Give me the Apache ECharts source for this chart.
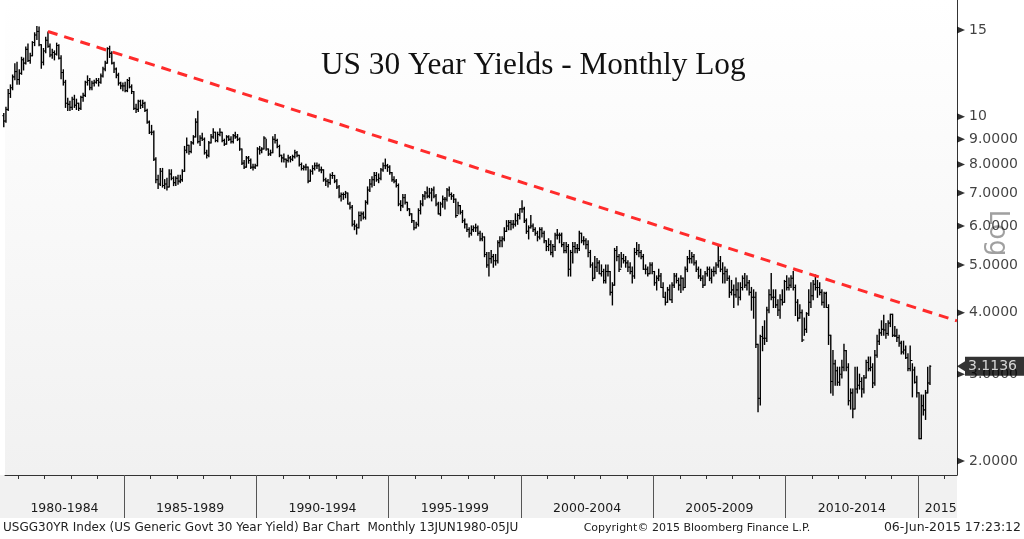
<!DOCTYPE html>
<html>
<head>
<meta charset="utf-8">
<script src="https://cdn.jsdelivr.net/npm/echarts@6/dist/echarts.min.js"></script>
<style>
html,body{margin:0;padding:0;background:#fff;}
#chart{width:1024px;height:539px;}
</style>
</head>
<body>
<div id="chart"></div>
<script>
// ---- Data (monthly bars, Jun 1980 - Jun 2015) ----
const startYear = 1980, startMonth = 6; // June 1980
const open0 = 10.05;
const high = [
  10.15,10.45,11.35,11.6,12.15,12.8,12.9,
  12.45,13.2,13.15,13.85,14.05,13.45,14.2,14.8,15.25,15.2,14.0,13.75,
  14.5,14.85,14.05,13.7,13.6,14.1,14.0,13.3,12.45,11.85,10.9,10.75,
  10.95,11.05,10.85,10.65,11.0,11.15,11.8,12.1,11.95,11.8,11.85,11.95,
  11.95,12.2,12.6,12.95,13.8,13.9,13.55,12.9,12.55,12.25,11.75,11.7,
  11.75,11.9,12.0,11.6,11.25,10.6,10.8,10.8,10.8,10.7,10.35,9.8,
  9.6,9.35,8.25,7.6,7.85,7.85,7.45,7.5,7.8,7.8,7.55,7.55,
  7.6,7.6,7.8,8.7,9.05,8.75,8.9,9.15,9.9,10.25,9.15,9.25,
  9.05,8.55,8.9,9.2,9.45,9.3,9.3,9.45,9.3,9.0,9.15,9.15,
  9.1,9.2,9.3,9.2,9.05,8.6,8.15,8.3,8.3,8.2,8.0,8.0,
  8.65,8.7,8.65,9.1,9.0,8.6,8.55,9.1,9.2,9.0,8.75,8.35,
  8.4,8.2,8.35,8.3,8.35,8.55,8.5,8.35,8.05,7.95,8.0,7.9,
  7.8,7.95,8.05,8.05,8.0,7.9,7.8,7.5,7.45,7.65,7.7,7.6,
  7.45,7.25,7.0,7.0,7.05,7.0,6.7,6.6,6.15,6.05,6.4,6.4,
  6.4,6.75,7.2,7.45,7.55,7.7,7.7,7.65,7.85,8.05,8.2,8.0,
  7.95,7.7,7.55,7.45,7.3,6.75,6.95,6.95,6.7,6.5,6.35,6.15,
  6.1,6.5,6.75,6.95,7.05,7.2,7.15,7.15,7.2,6.95,6.7,6.7,
  6.9,6.85,7.15,7.2,7.0,6.95,6.8,6.7,6.6,6.45,6.2,6.05,
  5.95,6.0,6.0,6.05,6.0,5.85,5.8,5.7,5.3,5.3,5.35,5.25,
  5.25,5.6,5.7,5.7,5.95,6.15,6.15,6.15,6.15,6.35,6.35,6.5,
  6.75,6.55,6.2,6.0,6.3,6.05,5.95,5.85,5.95,5.95,5.85,5.6,
  5.65,5.6,5.5,5.8,5.9,5.8,5.8,5.55,5.55,5.5,5.35,5.55,
  5.55,5.5,5.85,5.8,5.7,5.65,5.6,5.35,5.05,5.2,5.15,5.1,
  5.0,4.9,5.0,5.0,4.85,4.6,5.4,5.45,5.25,5.3,5.25,5.2,
  5.1,5.05,4.95,5.4,5.55,5.5,5.35,5.25,5.0,4.95,5.05,5.05,
  4.85,4.75,4.9,4.8,4.6,4.4,4.5,4.55,4.6,4.8,4.8,4.7,
  4.75,4.7,4.95,5.2,5.35,5.3,5.25,5.1,4.95,4.9,4.75,4.85,
  4.95,4.95,4.9,4.95,5.05,5.45,5.2,5.05,4.95,4.9,4.75,4.65,
  4.55,4.7,4.6,4.6,4.75,4.8,4.75,4.65,4.5,4.45,4.4,3.45,
  3.6,3.75,3.85,4.1,4.45,4.8,4.45,4.45,4.25,4.35,4.45,4.65,
  4.75,4.7,4.75,4.85,4.55,4.25,4.15,4.05,3.9,4.0,4.45,4.6,
  4.65,4.77,4.65,4.6,4.45,4.4,4.4,4.15,3.6,3.35,3.2,3.1,
  3.1,3.2,3.45,3.35,3.15,2.8,2.8,3.1,3.1,3.0,2.95,2.98,
  3.2,3.25,3.25,3.15,3.35,3.6,3.7,3.85,3.95,3.8,3.85,3.97,
  3.97,3.75,3.7,3.6,3.5,3.5,3.42,3.3,3.42,3.15,3.1,2.97,
  2.75,2.72,2.72,2.78,3.1,3.12
];
const low = [
  9.55,9.75,10.3,10.95,11.35,11.9,11.65,
  11.65,12.2,12.45,12.8,12.95,12.85,13.3,13.95,14.35,13.95,12.55,12.75,
  13.5,13.85,13.25,13.15,13.05,13.35,13.1,11.95,11.6,10.45,10.3,10.3,
  10.35,10.45,10.35,10.3,10.35,10.75,11.0,11.6,11.35,11.35,11.55,11.7,
  11.55,11.7,12.05,12.4,12.85,13.2,12.8,12.3,12.0,11.6,11.4,11.3,
  11.25,11.25,11.45,11.15,10.35,10.2,10.25,10.4,10.45,10.25,9.7,9.25,
  9.2,8.15,7.35,7.15,7.25,7.2,7.15,7.1,7.2,7.45,7.25,7.25,
  7.3,7.35,7.4,7.75,8.45,8.4,8.45,8.8,9.1,8.85,8.75,8.95,
  8.4,8.25,8.3,8.85,9.05,8.9,8.9,9.15,8.9,8.75,8.8,8.95,
  8.85,8.85,9.05,8.95,8.55,8.0,7.85,7.9,8.05,7.85,7.8,7.85,
  7.95,8.4,8.45,8.6,8.55,8.35,8.35,8.45,8.85,8.65,8.3,8.1,
  8.1,7.9,8.1,8.1,8.15,8.25,8.3,7.95,7.8,7.8,7.8,7.35,
  7.4,7.65,7.8,7.85,7.75,7.7,7.4,7.25,7.2,7.3,7.5,7.35,
  7.15,6.85,6.75,6.8,6.85,6.65,6.5,6.0,5.9,5.78,5.95,6.15,
  6.2,6.2,6.65,7.05,7.2,7.25,7.4,7.35,7.45,7.75,7.85,7.75,
  7.65,7.4,7.35,7.2,6.6,6.45,6.55,6.65,6.45,6.3,6.1,5.9,
  5.95,6.0,6.35,6.6,6.8,6.85,6.85,6.75,6.85,6.6,6.35,6.3,
  6.55,6.5,6.75,6.9,6.8,6.7,6.25,6.35,6.35,6.1,5.95,5.85,
  5.7,5.75,5.85,5.85,5.75,5.6,5.6,5.2,4.95,4.75,5.05,4.95,
  5.0,5.05,5.45,5.45,5.6,5.85,5.9,5.9,5.95,6.0,6.05,6.2,
  6.4,6.1,5.8,5.65,5.95,5.85,5.75,5.6,5.65,5.7,5.55,5.35,
  5.35,5.25,5.2,5.35,5.65,5.55,5.45,5.3,5.3,4.75,4.75,5.05,
  5.3,5.3,5.35,5.55,5.5,5.4,5.2,4.95,4.65,4.7,4.85,4.8,
  4.75,4.6,4.6,4.75,4.35,4.15,4.55,5.1,4.85,4.95,5.05,4.95,
  4.85,4.8,4.6,4.7,5.25,5.2,5.15,4.9,4.8,4.75,4.8,4.8,
  4.55,4.45,4.65,4.5,4.3,4.15,4.2,4.25,4.2,4.5,4.6,4.45,
  4.4,4.45,4.5,4.85,5.05,5.05,5.0,4.85,4.7,4.65,4.5,4.55,
  4.75,4.65,4.6,4.75,4.8,4.95,4.85,4.6,4.6,4.65,4.3,4.35,
  4.1,4.3,4.15,4.25,4.45,4.5,4.45,4.35,4.05,3.9,3.4,2.52,
  2.6,3.35,3.45,3.5,4.0,4.25,4.1,4.1,3.95,3.9,4.15,4.2,
  4.45,4.45,4.5,4.45,3.95,3.85,3.9,3.5,3.6,3.65,3.95,4.1,
  4.25,4.45,4.3,4.35,4.15,4.1,4.1,3.45,2.75,2.72,2.85,2.85,
  2.85,2.95,3.05,3.05,2.6,2.55,2.45,2.55,2.75,2.8,2.7,2.75,
  2.95,3.05,3.05,2.82,2.85,3.25,3.45,3.6,3.6,3.55,3.6,3.75,
  3.58,3.58,3.5,3.42,3.3,3.3,3.23,3.05,3.05,2.7,2.88,2.7,
  2.22,2.22,2.48,2.43,2.75,2.86
];
const close = [
  9.8,10.35,11.15,11.45,12.05,12.35,11.9,
  12.25,13.05,12.85,13.7,13.0,13.3,14.15,14.65,14.9,14.0,12.9,13.6,
  14.3,13.9,13.35,13.5,13.4,13.95,13.15,12.3,11.75,10.65,10.6,10.45,
  10.85,10.55,10.65,10.4,10.95,11.05,11.75,11.85,11.45,11.7,11.75,11.85,
  11.75,12.1,12.5,12.85,13.75,13.45,12.85,12.5,12.15,11.7,11.55,11.55,
  11.3,11.85,11.5,11.25,10.4,10.35,10.75,10.55,10.65,10.3,9.75,9.3,
  9.3,8.2,7.45,7.3,7.75,7.25,7.3,7.2,7.65,7.5,7.35,7.5,
  7.4,7.45,7.75,8.55,8.75,8.5,8.85,9.1,9.75,8.9,9.05,9.0,
  8.45,8.35,8.85,9.1,9.3,8.95,9.2,9.3,8.95,8.8,9.1,9.0,
  8.9,9.15,9.1,9.0,8.6,8.05,7.9,8.25,8.15,7.9,7.9,7.95,
  8.6,8.55,8.6,9.05,8.6,8.4,8.45,9.0,8.95,8.7,8.35,8.25,
  8.2,8.15,8.25,8.2,8.3,8.45,8.35,8.0,7.85,7.9,7.9,7.4,
  7.75,7.85,7.95,7.95,7.8,7.8,7.45,7.4,7.35,7.6,7.6,7.4,
  7.2,6.9,6.95,6.95,7.0,6.65,6.55,6.05,6.0,5.95,6.3,6.35,
  6.25,6.7,7.1,7.3,7.45,7.6,7.45,7.5,7.8,7.95,7.95,7.9,
  7.7,7.45,7.4,7.25,6.65,6.6,6.85,6.7,6.5,6.35,6.15,5.95,
  6.05,6.45,6.65,6.9,7.0,6.9,7.0,7.1,6.9,6.65,6.35,6.65,
  6.8,6.8,7.1,6.95,6.9,6.8,6.3,6.6,6.4,6.15,6.05,5.9,
  5.8,5.9,5.95,5.95,5.8,5.65,5.7,5.25,5.0,5.15,5.2,5.1,
  5.1,5.55,5.6,5.65,5.85,6.0,6.1,6.05,6.05,6.15,6.3,6.5,
  6.5,6.15,5.85,5.95,6.0,5.9,5.8,5.7,5.9,5.8,5.6,5.45,
  5.5,5.3,5.45,5.75,5.75,5.75,5.5,5.35,5.45,4.9,5.3,5.45,
  5.4,5.4,5.8,5.6,5.6,5.5,5.3,5.0,4.7,4.95,5.05,4.8,
  4.85,4.65,4.85,4.85,4.4,4.55,5.35,5.2,4.9,5.15,5.1,5.05,
  4.95,4.85,4.75,5.3,5.35,5.3,5.2,4.9,4.9,4.8,5.0,4.85,
  4.6,4.7,4.75,4.5,4.3,4.2,4.45,4.25,4.55,4.75,4.65,4.55,
  4.7,4.5,4.9,5.15,5.15,5.2,5.05,4.9,4.75,4.7,4.55,4.8,
  4.9,4.7,4.85,4.85,5.0,5.1,4.9,4.8,4.85,4.7,4.4,4.45,
  4.35,4.45,4.3,4.5,4.7,4.55,4.6,4.4,4.3,4.3,3.45,2.68,
  3.58,3.55,3.55,4.05,4.35,4.3,4.3,4.15,4.05,4.25,4.2,4.63,
  4.5,4.55,4.7,4.5,4.2,3.9,4.0,3.52,3.7,3.98,4.2,4.33,
  4.57,4.5,4.5,4.4,4.2,4.38,4.1,3.6,2.9,3.15,3.05,2.89,
  3.0,3.1,3.35,3.1,2.65,2.75,2.55,2.8,2.85,2.9,2.8,2.95,
  3.17,3.08,3.1,2.88,3.28,3.5,3.64,3.7,3.69,3.63,3.81,3.97,
  3.6,3.59,3.56,3.47,3.33,3.36,3.24,3.08,3.2,3.06,2.89,2.75,
  2.22,2.59,2.54,2.75,2.88,3.1136
];
const yTicks = [15, 10, 9, 8, 7, 6, 5, 4, 3, 2];
const yearTicks = ['1981-01-01','1982-01-01','1983-01-01','1984-01-01','1985-01-01','1986-01-01','1987-01-01','1988-01-01','1989-01-01','1990-01-01','1991-01-01','1992-01-01','1993-01-01','1994-01-01','1995-01-01','1996-01-01','1997-01-01','1998-01-01','1999-01-01','2000-01-01','2001-01-01','2002-01-01','2003-01-01','2004-01-01','2005-01-01','2006-01-01','2007-01-01','2008-01-01','2009-01-01','2010-01-01','2011-01-01','2012-01-01','2013-01-01','2014-01-01','2015-01-01','2016-01-01'];
const bandTicks = ['1985-01-01','1990-01-01','1995-01-01','2000-01-01','2005-01-01','2010-01-01','2015-01-01'];
const bandLabels = ['1980-1984','1985-1989','1990-1994','1995-1999','2000-2004','2005-2009','2010-2014','2015'];
const bandLabelDates = ['1982-10-01','1987-07-01','1992-07-01','1997-07-01','2002-07-01','2007-07-01','2012-07-01','2015-11-10'];
const trendDates = ['1982-02-15','2016-06-22'];
const trendValues = [14.9, 3.85];
const lastValue = 3.1136;
const xMin = '1980-07-02', xMax = '2016-06-22';
const yMin = 1.873, yMax = 17.26;

// ---- Build ----
function ts(s){ const p = s.split('-').map(Number); return Date.UTC(p[0], p[1]-1, p[2]); }
const xMinTs = ts(xMin), xMaxTs = ts(xMax);
const bars = close.map((c, i) => [
  Date.UTC(startYear, startMonth - 1 + i, 15),
  i === 0 ? open0 : close[i - 1], high[i], low[i], c
]);
const bandLabelTs = bandLabelDates.map(ts);

function renderBar(params, api){
  const t = api.value(0);
  const pO = api.coord([t, api.value(1)]);
  const pH = api.coord([t, api.value(2)]);
  const pL = api.coord([t, api.value(3)]);
  const pC = api.coord([t, api.value(4)]);
  const x = pH[0];
  const st = {stroke: '#000', lineWidth: 1.4};
  const tk = {stroke: '#000', lineWidth: 1.1};
  return {type: 'group', children: [
    {type: 'line', shape: {x1: x, y1: pH[1] - 0.6, x2: x, y2: pL[1] + 0.6}, style: st},
    {type: 'line', shape: {x1: x - 1.3, y1: pO[1], x2: x, y2: pO[1]}, style: tk},
    {type: 'line', shape: {x1: x, y1: pC[1], x2: x + 1.3, y2: pC[1]}, style: tk}
  ]};
}

const chart = echarts.init(document.getElementById('chart'), null, {renderer: 'canvas'});
const FONT = 'DejaVu Sans';
chart.setOption({
  animation: false,
  backgroundColor: '#ffffff',
  title: {
    text: 'US 30 Year Yields - Monthly Log',
    left: 316, top: 45,
    textStyle: {fontFamily: 'Liberation Serif', fontSize: 31.3, fontWeight: 'normal', color: '#111'}
  },
  grid: {
    left: 5, right: 67, top: 0, bottom: 64, show: true, borderWidth: 0,
    backgroundColor: {type: 'linear', x: 0, y: 0, x2: 0, y2: 1,
      colorStops: [{offset: 0, color: '#ffffff'}, {offset: 1, color: '#f1f1f1'}]}
  },
  graphic: [
    {type: 'rect', shape: {x: 0, y: 475, width: 957, height: 43}, style: {fill: '#f1f1f1'}, z: -10},
    {type: 'text', x: 997, y: 233, rotation: -Math.PI / 2,
      style: {text: 'Log', fill: '#a0a0a0', font: '26px "DejaVu Sans"', align: 'center', verticalAlign: 'middle'}},
    {type: 'text', x: 3, y: 528,
      style: {text: 'USGG30YR Index (US Generic Govt 30 Year Yield) Bar Chart  Monthly 13JUN1980-05JU', fill: '#222', font: '12px "DejaVu Sans"', verticalAlign: 'middle'}},
    {type: 'text', x: 697, y: 528,
      style: {text: 'Copyright\u00a9 2015 Bloomberg Finance L.P.', fill: '#222', font: '11px "DejaVu Sans"', align: 'center', verticalAlign: 'middle'}},
    {type: 'text', x: 1021, y: 528,
      style: {text: '06-Jun-2015 17:23:12', fill: '#222', font: '12.5px "DejaVu Sans"', align: 'right', verticalAlign: 'middle'}}
  ],
  xAxis: [
    {
      type: 'value', position: 'bottom', min: xMinTs, max: xMaxTs,
      axisLine: {show: true, lineStyle: {color: '#333', width: 1}},
      axisTick: {show: true, length: 4, customValues: yearTicks.map(ts), lineStyle: {color: '#333'}},
      axisLabel: {
        show: true, customValues: bandLabelTs, margin: 27,
        fontFamily: FONT, fontSize: 12.5, color: '#1a1a1a', hideOverlap: false,
        formatter: function(v){
          let best = 0, bd = Infinity;
          bandLabelTs.forEach((t, i) => { const d = Math.abs(t - v); if (d < bd) { bd = d; best = i; } });
          return bandLabels[best];
        }
      },
      splitLine: {show: false}
    },
    {
      type: 'value', position: 'bottom', min: xMinTs, max: xMaxTs,
      axisLine: {show: false},
      axisTick: {show: true, length: 43, customValues: bandTicks.map(ts), lineStyle: {color: '#555'}},
      axisLabel: {show: false},
      splitLine: {show: false}
    }
  ],
  yAxis: {
    type: 'log', logBase: 10, position: 'right', min: yMin, max: yMax,
    axisLine: {show: true, lineStyle: {color: '#333', width: 1}},
    axisTick: {show: false}, axisLabel: {show: false}, splitLine: {show: false}
  },
  series: [
    {
      type: 'custom', name: 'USGG30YR', renderItem: renderBar, data: bars,
      encode: {x: 0, y: [1, 2, 3, 4]}, clip: false, z: 3
    },
    {
      type: 'line', name: 'trend', data: trendDates.map((d, i) => [ts(d), trendValues[i]]),
      symbol: 'none', lineStyle: {color: '#ff2b2b', width: 3, type: [10, 7]}, z: 4, silent: true
    },
    {
      type: 'scatter', name: 'ticks', clip: false, silent: true, z: 5,
      data: yTicks.map(v => [xMaxTs, v]),
      symbol: 'triangle', symbolSize: [7, 8], symbolRotate: -90, symbolOffset: [4, 0],
      itemStyle: {color: '#000'},
      label: {show: true, position: 'right', distance: 4, fontFamily: FONT, fontSize: 14, color: '#111',
        formatter: p => p.value[1] >= 10 ? String(p.value[1]) : p.value[1].toFixed(4)}
    },
    {
      type: 'scatter', name: 'last', clip: false, silent: true, z: 10,
      data: [[xMaxTs, lastValue]],
      symbol: 'triangle', symbolSize: [10, 8], symbolRotate: 90, symbolOffset: [4, 0],
      itemStyle: {color: '#000'},
      label: {show: true, position: 'right', distance: 0, fontFamily: FONT, fontSize: 14, color: '#fff',
        backgroundColor: '#000', padding: [3, 8, 2, 3], formatter: () => lastValue.toFixed(4)}
    }
  ]
});
</script>
</body>
</html>
